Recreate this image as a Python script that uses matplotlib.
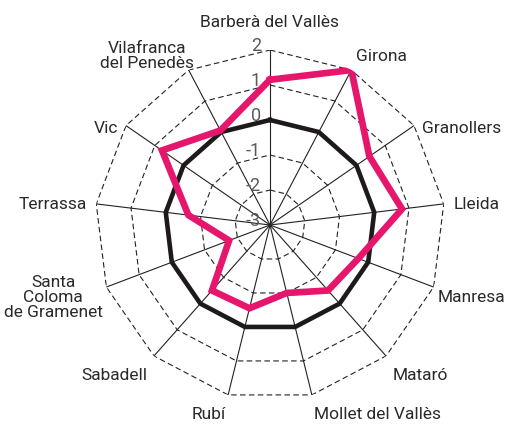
import numpy as np
import matplotlib
matplotlib.use("Agg")
import matplotlib.pyplot as plt

plt.rcParams['font.family'] = ["Roboto", "DejaVu Sans"]

categories = ["Barberà del Vallès", "Girona", "Granollers", "Lleida", "Manresa",
              "Mataró", "Mollet del Vallès", "Rubí", "Sabadell",
              "Santa\nColoma\nde Gramenet", "Terrassa", "Vic", "Vilafranca\ndel Penedès"]
reference = [0, 0, 0, 0, 0, 0, 0, 0, 0, 0, 0, 0, 0]
values = [1.15, 2.0, 0.45, 0.8, -0.3, -0.5, -1.0, -0.55, -0.5, -1.75, -0.65, 0.75, 0.05]
ring_levels = [-2, -1, 0, 1, 2]
tick_labels = ["2", "1", "0", "-1", "-2", "-3"]
tick_values = [2, 1, 0, -1, -2, -3]

n = len(categories)
theta = np.arange(n) * 2 * np.pi / n
theta_c = np.append(theta, theta[0])

fig = plt.figure(figsize=(5.14, 4.29), dpi=100)
cx, cy, R = 270, 225, 175
ax = fig.add_axes([(cx - R) / 514, (429 - cy - R) / 429, 2 * R / 514, 2 * R / 429], polar=True)
ax.set_theta_zero_location("N")
ax.set_theta_direction(-1)
ax.set_ylim(-3, 2)
ax.grid(False)
ax.set_xticks([])
ax.set_yticks([])
ax.spines['polar'].set_visible(False)
ax.patch.set_visible(False)

# rings
for lv in ring_levels:
    ax.plot(theta_c, [lv] * (n + 1), color="#222222", lw=0.8, ls=(0, (5, 3)), zorder=1)
# spokes
for t in theta:
    ax.plot([t, t], [-3, 2], color="#222222", lw=0.8, zorder=1)

# series
ax.plot(theta_c, np.append(reference, reference[0]), color="#1e1a1a", lw=3.3, zorder=3,
        solid_joinstyle="miter")
ax.plot(theta_c, np.append(values, values[0]), color="#e5166c", lw=4.8, zorder=4,
        solid_joinstyle="miter")

# radial tick labels
for tv, tl in zip(tick_values, tick_labels):
    ax.annotate(tl, xy=(0, tv), xytext=(-9, 4), textcoords="offset pixels",
                ha="right", va="center", fontsize=13, color="#5a5a5a", zorder=5)

# category labels
for t, c in zip(theta, categories):
    s, co = np.sin(t), np.cos(t)
    if abs(s) < 0.05:
        ha = "center"
    elif s > 0:
        ha = "left"
    else:
        ha = "right"
    if co > 0.95:
        va, dx, dy = "bottom", 0, 20
    elif co > 0.7:
        va, dx, dy = "center", 5, 14
    elif co < -0.7:
        va, dx, dy = "center", 10 * s, -20
    elif co < -0.3:
        va, dx, dy = "center", 4 * s, -10
    else:
        va, dx, dy = "center", 10 * s, -6 * co
    ax.annotate(c, xy=(t, 2), xytext=(dx, dy), textcoords="offset pixels",
                ha=ha, va=va, fontsize=12.5, color="#2a2a2a", linespacing=1.0,
                multialignment="center", zorder=5)

fig.savefig("out.png", dpi=100)
